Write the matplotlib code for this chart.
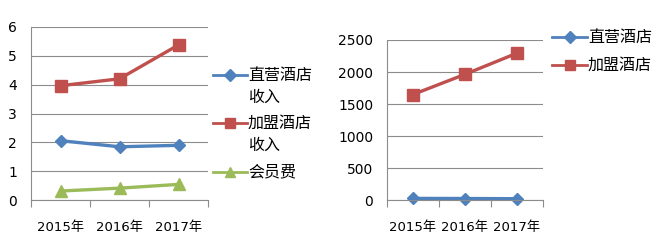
import matplotlib
matplotlib.use("Agg")
import matplotlib.pyplot as plt
from matplotlib.lines import Line2D

plt.rcParams['font.family'] = ['DejaVu Sans', 'Noto Sans CJK SC']

# data
years = ['2015年', '2016年', '2017年']
direct_income = [2.06, 1.85, 1.90]
franchise_income = [3.96, 4.20, 5.37]
member_fee = [0.32, 0.42, 0.55]

direct_count = [30, 28, 25]
franchise_count = [1650, 1965, 2295]

left_labels = [['直营酒店', '收入'], ['加盟酒店', '收入'], ['会员费']]
right_labels = [['直营酒店'], ['加盟酒店']]

blue = '#4F81BD'
red = '#C0504D'
green = '#9BBB59'
grid_c = '#8C8C8C'

W, H = 658, 250
fig = plt.figure(figsize=(W / 100, H / 100), dpi=100)
ax1 = fig.add_axes([31 / W, 1 - 200.3 / H, 177 / W, 173.6 / H])
ax2 = fig.add_axes([387 / W, 1 - 200.3 / H, 156 / W, 160.3 / H])


def style(ax, ymax, step):
    ax.set_xlim(-0.5, len(years) - 0.5)
    ax.set_ylim(0, ymax)
    ax.set_yticks(range(0, ymax + 1, step))
    ax.set_xticks(list(range(len(years))))
    ax.set_xticklabels(years, fontsize=9.5)
    ax.set_xticks([i - 0.5 for i in range(len(years) + 1)], minor=True)
    ax.tick_params(axis='x', which='major', length=0, pad=15)
    ax.tick_params(axis='x', which='minor', length=5, color=grid_c, width=0.8)
    ax.tick_params(axis='y', length=0, pad=10, labelsize=10)
    for s in ['top', 'right']:
        ax.spines[s].set_visible(False)
    for s in ['left', 'bottom']:
        ax.spines[s].set_color(grid_c)
        ax.spines[s].set_linewidth(0.8)
    ax.yaxis.grid(True, color=grid_c, linewidth=0.8)
    ax.set_axisbelow(True)


style(ax1, 6, 1)
style(ax2, 2500, 500)

xs = range(len(years))
lw = 2.4
ax1.plot(xs, direct_income, color=blue, lw=lw, marker='D', ms=6.5, clip_on=False)
ax1.plot(xs, franchise_income, color=red, lw=lw, marker='s', ms=8, clip_on=False)
ax1.plot(xs, member_fee, color=green, lw=lw, marker='^', ms=8, clip_on=False)

ax2.plot(xs, direct_count, color=blue, lw=lw, marker='D', ms=6.5, clip_on=False)
ax2.plot(xs, franchise_count, color=red, lw=lw, marker='s', ms=8, clip_on=False)

cjk = ['Noto Sans CJK SC', 'DejaVu Sans']


# legend drawn by hand: marker sits on the first text line, like the original
def legend_entry(x0, x1, y, color, marker, ms, lines, line_h=22):
    yf = 1 - y / H
    fig.add_artist(Line2D([x0 / W, x1 / W], [yf, yf], color=color, lw=2,
                          transform=fig.transFigure))
    fig.add_artist(Line2D([(x0 + x1) / 2 / W], [yf], color=color, marker=marker,
                          ms=ms, transform=fig.transFigure))
    for i, t in enumerate(lines):
        fig.text((x1 + 1) / W, 1 - (y + i * line_h) / H, t, family=cjk,
                 fontsize=11.5, va='center', ha='left')


markers = [(blue, 'D', 6), (red, 's', 7), (green, '^', 7)]
for (c, m, ms), lab, y in zip(markers, left_labels, [75, 123, 172]):
    legend_entry(213, 247, y, c, m, ms, lab)
for (c, m, ms), lab, y in zip(markers, right_labels, [37, 65]):
    legend_entry(552, 587, y, c, m, ms, lab)

fig.savefig('out.png', dpi=100)
